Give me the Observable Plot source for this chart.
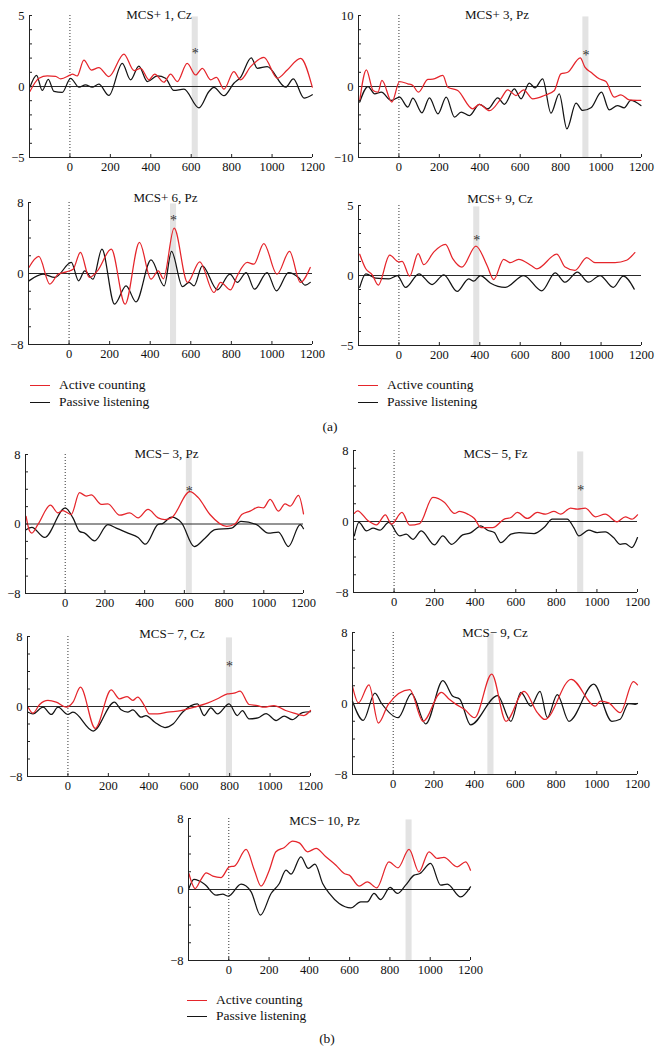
<!DOCTYPE html>
<html><head><meta charset="utf-8">
<script src="https://cdn.jsdelivr.net/npm/d3@7"></script>
<script src="https://cdn.jsdelivr.net/npm/@observablehq/plot@0.6"></script>
<style>
body{margin:0;background:#fff;}
#fig{position:relative;width:660px;height:1055px;overflow:hidden;background:#fff;font-family:"Liberation Serif","Times New Roman",serif;color:#111;}
.panel{position:absolute;}
.row{position:absolute;height:16px;display:flex;align-items:center;font-size:13.5px;white-space:nowrap;}
.row .ln{display:inline-block;width:20px;height:0;border-top:1.5px solid #111;margin-right:9px;}
.cap{position:absolute;width:40px;text-align:center;font-size:13.5px;line-height:16px;}
</style></head><body><div id="fig"></div>
<script>
// ---------- data (time in ms, amplitude in µV) ----------
const p1Active = [[-198,-0.35],[-153,0.58],[-112,0.74],[-71,0.72],[-46,0.53],[0,0.8],[12,0.88],[36,0.74],[69,1.86],[106,1.16],[143,1.33],[193,0.7],[267,2.28],[317,1.12],[350,1.28],[391,0.47],[419,0.88],[465,0.3],[498,0.88],[531,0.35],[580,1.63],[622,0.81],[655,1.28],[696,0.47],[725,0.65],[762,-0.19],[811,1.05],[844,0.47],[894,1.4],[960,2.05],[1026,0.58],[1075,1.16],[1141,1.98],[1199,-0.05]];
const p1Passive = [[-198,-0.05],[-165,0.79],[-137,-0.28],[-107,0.51],[-79,-0.35],[-38,-0.42],[3,0.58],[45,-0.05],[77,0.12],[110,-0.05],[143,0.16],[193,-0.63],[259,1.63],[300,0.47],[341,1.44],[383,0.35],[432,0.74],[473,0.58],[514,-0.28],[564,-0.19],[638,-1.51],[688,-0.35],[712,-0.07],[762,-0.65],[811,0.23],[844,0.65],[897,2.02],[927,1.28],[976,1.4],[1067,-0.05],[1105,0.53],[1158,-0.81],[1199,-0.58]];

const p2Active = [[-194,-1.97],[-161,2.35],[-128,-0.56],[-104,-0.8],[-84,0.85],[-35,-2.2],[3,0.7],[44,0.38],[69,0.14],[97,-0.8],[143,0.99],[168,1.03],[217,1.55],[242,-0.1],[291,-0.56],[365,-3.15],[398,-2.5],[448,-3.4],[505,-1.7],[538,-0.47],[579,-1.27],[617,-0.47],[662,-1.74],[719,-1.27],[769,-0.56],[801,1.78],[835,2.0],[897,4.04],[920,2.72],[950,2.0],[991,1.08],[1024,0.7],[1065,-1.5],[1098,-1.17],[1139,-1.88],[1197,-1.97]];
const p2Passive = [[-194,-2.2],[-153,0],[-120,-1.03],[-87,-0.8],[-38,-1.97],[3,-1.5],[44,-2.9],[69,-1.64],[114,-3.7],[151,-1.6],[193,-3.85],[234,-1.5],[275,-4.3],[308,-3.6],[349,-4.1],[398,-2.5],[440,-3.15],[489,-1.6],[522,-2.5],[571,-0.33],[604,-1.74],[645,0.47],[673,-0.19],[711,1.08],[752,-3.76],[793,-1.03],[831,-5.96],[876,-2.35],[909,-3.38],[950,-3.0],[1002,-0.8],[1040,-3.29],[1081,-2.68],[1114,-3.0],[1147,-1.97],[1197,-2.68]];

const p3Active = [[-198,0.68],[-149,1.92],[-95,-1.2],[-54,-0.08],[-13,0.19],[20,0.49],[56,2.37],[100,-0.45],[140,0.3],[208,2.74],[276,-3.46],[347,3.5],[404,-0.64],[440,0.3],[465,-0.6],[518,5.1],[584,-1.0],[644,1.32],[714,-2.14],[747,-1.0],[796,-1.84],[829,-0.26],[878,1.24],[911,1.05],[960,3.38],[1025,-0.08],[1087,2.48],[1140,-1.0],[1189,0.68]];
const p3Passive = [[-198,-0.83],[-128,-0.08],[-70,-0.45],[11,1.24],[47,-0.83],[77,0.3],[118,-0.64],[162,2.74],[224,-3.46],[281,-1.39],[330,-3.2],[404,1.54],[469,-1.39],[505,2.48],[559,-1.47],[592,-1.0],[616,-1.39],[657,0.86],[731,-1.84],[793,-0.08],[829,-1.0],[873,0.11],[914,-1.77],[976,0.11],[1022,-1.95],[1082,0.11],[1131,-0.45],[1164,-1.32],[1189,-1.0]];

const p4Active = [[-194,1.52],[-164,0.48],[-132,0.05],[-102,-0.68],[-46,1.45],[0,0.97],[16,1.01],[53,-0.05],[95,1.57],[123,0.77],[173,1.69],[230,2.22],[266,1.21],[312,0.6],[381,2.1],[436,0.72],[469,-0.29],[518,1.16],[551,0.92],[592,1.16],[658,0.68],[682,0.48],[781,1.52],[822,0.6],[871,0.36],[929,1.28],[970,0.92],[1069,0.92],[1126,1.09],[1167,1.64]];
const p4Passive = [[-194,-0.85],[-164,0.12],[-115,-0.19],[-49,-0.24],[-8,0],[33,-0.85],[99,0.12],[164,-0.65],[222,0.05],[288,-1.14],[345,-0.24],[370,-0.41],[403,0],[452,-0.53],[526,-0.85],[617,0],[707,-1.09],[773,0.19],[822,-0.48],[883,0.24],[937,-0.48],[995,0],[1060,-0.85],[1110,-0.05],[1164,-0.97]];

const p5Active = [[-197,0.89],[-180,-0.78],[-168,-1.05],[-138,-0.08],[-74,2.17],[-37,1.28],[-12,1.55],[30,1.09],[72,3.6],[106,3.22],[131,3.34],[182,2.25],[215,2.33],[274,1.01],[325,1.28],[367,0.7],[417,1.67],[468,0.7],[502,0.5],[535,0.7],[628,3.73],[670,3.03],[729,1.09],[813,-0.27],[855,0],[889,1.09],[931,1.48],[973,1.94],[998,1.86],[1032,2.83],[1074,1.48],[1107,2.33],[1133,2.06],[1175,3.3],[1200,1.17]];
const p5Passive = [[-197,-0.66],[-168,-0.39],[-104,-1.55],[0,1.86],[39,0.7],[72,-0.85],[98,-1.05],[148,-1.94],[215,-0.08],[257,-0.47],[316,-1.05],[367,-1.55],[404,-2.33],[468,-0.05],[490,0.05],[535,0.78],[586,0.12],[650,-2.6],[704,-1.63],[754,-0.66],[838,-0.47],[885,0.31],[964,-0.08],[1023,-1.05],[1074,-0.93],[1124,-2.6],[1183,-0.08],[1200,-0.54]];

const p6Active = [[-196,0.91],[-180,1.21],[-128,0.08],[-87,-0.38],[-43,0.75],[-13,-0.3],[39,1.02],[77,-0.42],[126,-0.23],[191,2.72],[249,2.15],[298,0.91],[322,1.13],[363,0.83],[396,0.34],[428,-0.68],[486,-0.68],[543,0.26],[576,0.45],[608,1.02],[657,0.34],[706,1.02],[747,0.83],[788,1.13],[821,0.83],[870,1.51],[903,1.4],[943,1.51],[992,0.53],[1041,0.83],[1099,-0.04],[1140,0.53],[1172,0.26],[1200,0.75]];
const p6Passive = [[-196,-1.62],[-173,-0.11],[-136,-1.06],[-103,-0.75],[-70,-0.98],[-26,-0.11],[28,-1.62],[60,-1.43],[93,-2.0],[134,-1.06],[199,-2.64],[240,-1.62],[284,-2.57],[338,-1.51],[379,-1.25],[412,-0.68],[428,-0.49],[461,-0.98],[494,-1.25],[526,-2.38],[576,-1.43],[616,-1.25],[690,-1.36],[739,-0.68],[780,0.26],[853,0.26],[886,-0.68],[911,-1.62],[960,-0.98],[1001,-1.25],[1041,-1.17],[1082,-1.81],[1115,-2.57],[1140,-2.49],[1172,-2.94],[1200,-1.81]];

const p7Active = [[-197,-0.08],[-173,-0.76],[-140,0.23],[-99,0.69],[-58,0.5],[-8,-0.08],[25,0.5],[62,2.21],[135,-2.5],[214,1.9],[255,0.88],[293,1.14],[321,0.69],[345,1.07],[378,0.11],[403,-0.84],[444,-0.84],[493,-0.65],[559,-0.46],[625,-0.08],[690,0.38],[740,0.88],[789,1.45],[822,1.52],[852,1.75],[896,0.23],[937,0.11],[970,-0.08],[1019,0.11],[1077,-0.46],[1118,-0.76],[1167,-1.03],[1200,-0.46]];
const p7Passive = [[-197,-0.65],[-173,-0.84],[-123,-0.08],[-82,-0.91],[-49,-0.08],[0,-0.91],[25,-0.65],[125,-2.8],[230,0.5],[263,-0.38],[296,-0.65],[321,-0.38],[362,-1.22],[386,-1.03],[430,-1.8],[480,-2.4],[520,-2.0],[567,-0.65],[641,0.3],[674,-1.03],[707,-0.15],[740,-0.84],[797,0.3],[838,-1.03],[863,-0.46],[896,-1.41],[940,-1.3],[980,-0.8],[1030,-1.6],[1070,-1.1],[1110,-1.5],[1160,-0.7],[1200,-0.6]];

const p8Active = [[-200,1.92],[-171,0.07],[-119,2.1],[-73,-2.2],[-24,-0.1],[81,1.55],[147,-2.0],[236,1.25],[277,0.44],[309,-0.1],[350,-0.66],[400,-1.6],[484,3.32],[554,-2.0],[643,1.37],[708,-1.03],[745,-1.8],[874,2.73],[993,-0.3],[1017,0.26],[1058,0.07],[1115,-1.03],[1180,2.47],[1200,2.1]];
const p8Passive = [[-200,0.26],[-147,-1.9],[-90,1.18],[-57,0],[24,-1.59],[90,1.1],[160,-2.3],[244,2.58],[293,0.81],[326,0.52],[380,-2.4],[513,0.89],[578,-2.0],[627,1.25],[676,-0.3],[721,1.37],[757,-1.59],[806,1.0],[863,-2.0],[985,2.18],[1074,-2.0],[1115,-1.77],[1156,0],[1188,-0.1],[1200,0]];

const p9Active = [[-198,1.8],[-167,0.11],[-140,1.05],[-112,1.88],[-79,1.5],[-38,1.35],[3,2.56],[28,2.63],[86,4.51],[127,2.18],[160,0.38],[201,2.18],[234,4.25],[276,4.74],[317,5.45],[350,5.26],[391,4.25],[433,4.62],[482,3.68],[532,2.74],[573,1.8],[598,1.62],[647,0.38],[688,0.86],[735,0.19],[795,3.1],[840,2.45],[895,4.51],[944,1.99],[994,4.25],[1035,3.5],[1068,3.61],[1134,2.56],[1176,3.12],[1200,2.18]];
const p9Passive = [[-198,0.11],[-173,1.13],[-120,0.6],[-63,-0.64],[-30,-0.53],[-2,-0.75],[61,0.6],[111,-0.26],[157,-2.89],[210,-0.45],[251,0.68],[284,2.18],[309,1.73],[358,3.68],[395,2.37],[428,2.86],[466,0.68],[499,-0.45],[548,-1.58],[606,-2.07],[655,-1.39],[688,-1.39],[721,-0.45],[754,-1.13],[801,0.23],[837,-0.45],[878,0.49],[920,1.62],[949,1.8],[1002,2.93],[1052,0.49],[1085,0.6],[1151,-0.83],[1200,0.3]];

const titles = ["MCS+ 1, Cz","MCS+ 3, Pz","MCS+ 6, Pz","MCS+ 9, Cz","MCS\u2212 3, Pz","MCS\u2212 5, Fz","MCS\u2212 7, Cz","MCS\u2212 9, Cz","MCS\u2212 10, Pz"];
const yLimits = [5,10,8,5,8,8,8,8,8];
const bands = [[605,635],[910,940],[500,530],[370,400],[610,640],[905,935],[784,814],[465,495],[880,910]];
const stars = [2.5,4.8,6.3,2.7,4.1,3.8,4.9,null,null];
const xTicks = [0,200,400,600,800,1000,1200];
const xDomain = [-200,1200];
const seriesLabels = ["Active counting","Passive listening"];
const panelLabels = ["(a)","(b)"];

const activeSeries = [p1Active,p2Active,p3Active,p4Active,p5Active,p6Active,p7Active,p8Active,p9Active];
const passiveSeries = [p1Passive,p2Passive,p3Passive,p4Passive,p5Passive,p6Passive,p7Passive,p8Passive,p9Passive];

// ---------- layout ----------
const RED = "#e5252b", BLACK = "#141414";
const frames = [
  {L:29,R:312,T:15,B:157,tdy:-1,tdx:-12},
  {L:358,R:641,T:15,B:157,tdy:-1,tdx:-3},
  {L:28,R:312,T:202,B:344,tdy:-5,tdx:-5},
  {L:358,R:641,T:205,B:345,tdy:-7,tdx:0},
  {L:25,R:303,T:454,B:593,tdy:-1,tdx:2},
  {L:353,R:637,T:450,B:592,tdy:3,tdx:0},
  {L:27,R:310,T:636,B:776,tdy:-3,tdx:3},
  {L:352,R:637,T:632,B:774,tdy:0,tdx:0},
  {L:188,R:470,T:818,B:960,tdy:2,tdx:-5}
];
const fig = document.getElementById("fig");
const mL=30, mR=18, mT=16, mB=24;
const fmt = d => d < 0 ? "\u2212" + (-d) : String(d);

frames.forEach((f, i) => {
  const lim = yLimits[i];
  const step = lim === 5 ? 1 : 2;
  const minor = d3.range(-lim, lim + step / 2, step);
  const b = bands[i];
  const marks = [
    Plot.rect([b], {x1: d => d[0], x2: d => d[1], y1: () => -lim, y2: () => lim * 0.98, fill: "#e3e3e3"}),
    Plot.ruleY([0], {stroke: "#2a2a2a", strokeWidth: 1}),
    Plot.ruleX([0], {stroke: "#333", strokeWidth: 1, strokeDasharray: "1,2"}),
    Plot.line(passiveSeries[i], {x: d => d[0], y: d => d[1], curve: "monotone-x", stroke: BLACK, strokeWidth: 1.25}),
    Plot.line(activeSeries[i], {x: d => d[0], y: d => d[1], curve: "monotone-x", stroke: RED, strokeWidth: 1.25}),
    Plot.ruleX([xDomain[0]], {stroke: "#222", strokeWidth: 1}),
    Plot.ruleY([-lim], {stroke: "#222", strokeWidth: 1}),
    Plot.axisY({ticks: minor, tickSize: 3, dx: 3, tickFormat: () => "", stroke: "#222"}),
    Plot.axisY({ticks: [-lim, 0, lim], tickSize: 0, tickPadding: 5, tickFormat: fmt, fill: "#111"}),
    Plot.axisX({ticks: xTicks, tickSize: 3, dy: -3, tickFormat: () => "", stroke: "#222"}),
    Plot.axisX({ticks: xTicks, tickSize: 0, tickPadding: 5, tickFormat: d => String(d), fill: "#111"}),
    Plot.text([titles[i]], {frameAnchor: "top", dy: f.tdy, dx: f.tdx, lineAnchor: "middle", fontSize: 13, fill: "#111"})
  ];
  if (stars[i] != null) {
    marks.push(Plot.text([stars[i]], {x: () => (b[0] + b[1]) / 2, y: d => d, text: () => "*", fontSize: 14, dy: 3, lineAnchor: "middle", fill: "#333"}));
  }
  const chart = Plot.plot({
    width: f.R - f.L + mL + mR,
    height: f.B - f.T + mT + mB,
    marginLeft: mL, marginRight: mR, marginTop: mT, marginBottom: mB,
    x: {domain: xDomain},
    y: {domain: [-lim, lim]},
    style: {fontFamily: '"Liberation Serif","Times New Roman",serif', fontSize: "12.5px", background: "transparent", overflow: "visible", color: "#111"},
    marks
  });
  chart.classList.add("panel");
  chart.style.left = (f.L - mL) + "px";
  chart.style.top = (f.T - mT) + "px";
  chart.style.position = "absolute";
  fig.appendChild(chart);
});

// ---------- legends ----------
function legend(x, y, gap) {
  seriesLabels.forEach((lab, k) => {
    const row = document.createElement("div");
    row.className = "row";
    row.style.left = x + "px";
    row.style.top = (y + k * gap - 8) + "px";
    const ln = document.createElement("span");
    ln.className = "ln";
    ln.style.borderTopColor = k === 0 ? RED : BLACK;
    row.appendChild(ln);
    row.appendChild(document.createTextNode(lab));
    fig.appendChild(row);
  });
}
legend(30, 385, 17);
legend(358, 385, 17);
legend(187, 1000, 16);

function cap(text, cx, cy) {
  const d = document.createElement("div");
  d.className = "cap";
  d.style.left = (cx - 20) + "px";
  d.style.top = (cy - 8) + "px";
  d.textContent = text;
  fig.appendChild(d);
}
cap(panelLabels[0], 330, 427);
cap(panelLabels[1], 327, 1039);
</script></body></html>
